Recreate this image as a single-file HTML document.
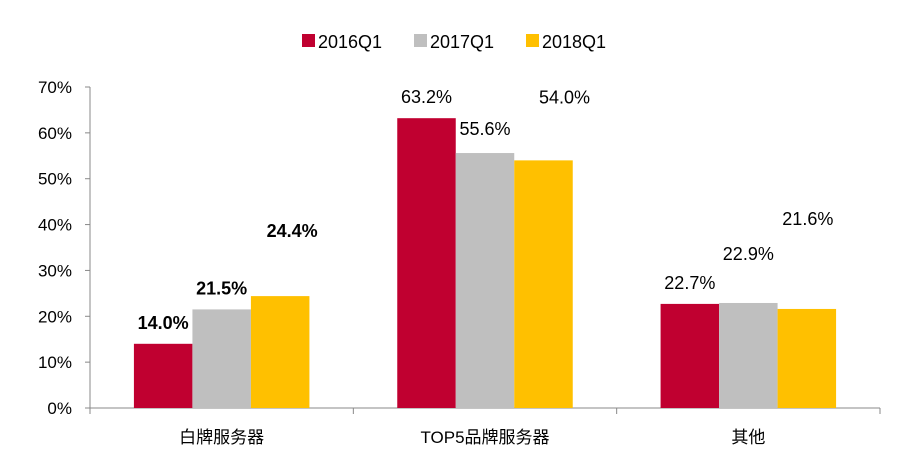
<!DOCTYPE html>
<html><head><meta charset="utf-8"><style>
html,body{margin:0;padding:0;background:#fff;}
svg text{font-family:"Liberation Sans","Noto Sans CJK SC",sans-serif;}
</style></head><body>
<svg id="chart" width="900" height="461" xmlns="http://www.w3.org/2000/svg"></svg>
<script>
const categories = ["白牌服务器", "TOP5品牌服务器", "其他"];
const seriesNames = ["2016Q1", "2017Q1", "2018Q1"];
const s2016 = [14.0, 63.2, 22.7];
const s2017 = [21.5, 55.6, 22.9];
const s2018 = [24.4, 54.0, 21.6];
const yTicks = [0, 10, 20, 30, 40, 50, 60, 70];
const colors = ["#C00030", "#BFBFBF", "#FFC000"];
const series = [s2016, s2017, s2018];
const labelLift = [[15,15,15],[15,18,43],[59,57,84]]; // [series][category] label lift (px)
const labelShift = [[0,0,0],[0,0,0],[12,21,1]];
const boldCat = [true, false, false];

const svg = document.getElementById('chart');
const NS = 'http://www.w3.org/2000/svg';
const x0 = 90, x1 = 880, yBase = 408, yTop = 87, yMax = 70;
const y = v => yBase - (v / yMax) * (yBase - yTop);
const catW = (x1 - x0) / categories.length;
const barW = 58.5;
function mk(tag, attrs) { const e = document.createElementNS(NS, tag); for (const k in attrs) e.setAttribute(k, attrs[k]); svg.appendChild(e); return e; }

let ax = mk('line', {x1:x0, y1:yTop, x2:x0, y2:yBase, stroke:'#888', 'stroke-width':1});


yTicks.forEach(t => {
  const tk = mk('line', {x1:x0-5, y1:y(t), x2:x0, y2:y(t), stroke:'#888'});
  
  
  const tl = mk('text', {x:72, y:y(t)+6, 'text-anchor':'end', 'font-size':17, fill:'#000'});
  tl.textContent = t + '%';
  
  
});
let xa = mk('line', {x1:x0, y1:yBase, x2:x1, y2:yBase, stroke:'#888'});


for (let i = 0; i <= categories.length; i++) {
  const tk = mk('line', {x1:x0+i*catW, y1:yBase, x2:x0+i*catW, y2:yBase+6, stroke:'#888'});
  
  
}
categories.forEach((c, i) => {
  const cx = x0 + (i + 0.5) * catW;
  const tl = mk('text', {x:cx, y:443, 'text-anchor':'middle', 'font-size':17, fill:'#000'});
  tl.textContent = c;
  
  
  series.forEach((s, j) => {
    const bx = cx + (j - 1.5) * barW;
    const r = mk('rect', {x:bx, y:y(s[i]), width:barW, height:yBase - y(s[i]), fill:colors[j]});
    
    
    const lb = mk('text', {x:bx + barW/2 + labelShift[j][i], y:y(s[i]) - labelLift[j][i], 'text-anchor':'middle', 'font-size':18, 'font-weight':boldCat[i]?'bold':'normal', fill:'#000'});
    lb.textContent = s[i].toFixed(1) + '%';
    
    
  });
});
const legX = [302, 414, 526];
seriesNames.forEach((n, j) => {
  const sq = mk('rect', {x:legX[j], y:34, width:13, height:13, fill:colors[j]});
  
  
  const t = mk('text', {x:legX[j]+16, y:48, 'font-size':18, fill:'#000'});
  t.textContent = n;
  
  
});
</script>
</body></html>
